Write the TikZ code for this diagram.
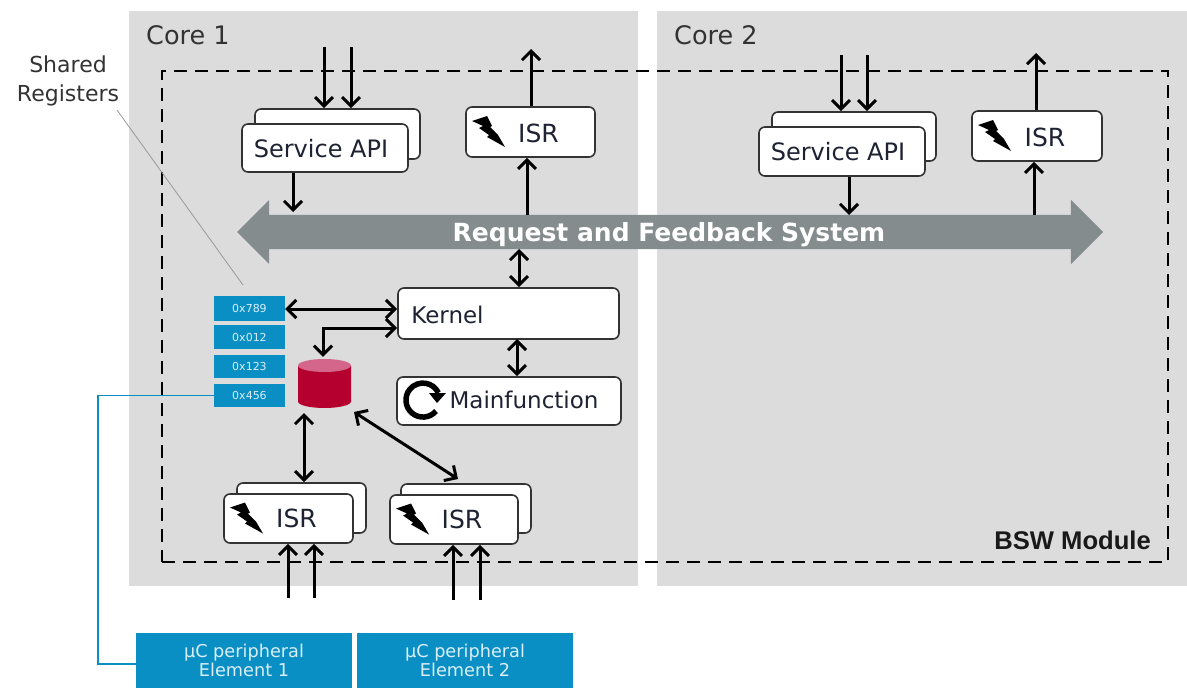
\documentclass[tikz,border=0pt]{standalone}
\usepackage{fontspec}
\setmainfont{DejaVu Sans}
\newfontfamily\arialish{Liberation Sans}
\usetikzlibrary{arrows.meta,shapes.arrows,shapes.geometric,calc}
\definecolor{panelgrey}{HTML}{DCDCDC}
\definecolor{busgrey}{HTML}{848C8E}
\definecolor{regblue}{HTML}{0A8FC4}
\definecolor{dbred}{HTML}{B5002F}
\definecolor{dbtop}{HTML}{D3668A}
\definecolor{inktext}{HTML}{1E2233}
\newcommand\fs[1]{\fontsize{#1}{#1}\selectfont}
\newcommand\lowered[2]{\raisebox{-#1pt}[0pt][0pt]{#2}}
\tikzset{
  x=1pt,y=-1pt,
  panel/.style={draw=none,fill=panelgrey,inner sep=0pt},
  roundbox/.style={draw=black!80,fill=white,line width=1.6pt,rounded corners=6pt,inner sep=0pt,text=inktext,font=\fs{23}},
  regbox/.style={draw=none,fill=regblue,inner sep=0pt,text=white!85!regblue,font=\fs{11}},
  periph/.style={draw=none,fill=regblue,inner sep=0pt,text=white!85!regblue,font=\fs{17.7},align=center},
  conn/.style={line width=3pt,black,-{Straight Barb[length=9pt,width=18pt,line width=3pt]}},
  biconn/.style={line width=3pt,black,{Straight Barb[length=9pt,width=18pt,line width=3pt]}-{Straight Barb[length=9pt,width=18pt,line width=3pt]}},
  title/.style={inner sep=0pt,text=black!80,font=\fs{25.5}},
  bolt/.pic={\fill[black] (6,14)--(21,9)--(26,19)--(24,20)--(32,28)--(39,40)--(21,30)--(23,28)--(13,21)--(17,19)--cycle;},
}
\newcommand\place[7][]{\node[#2,#1,minimum width={(#6)-(#4)},minimum height={(#7)-(#5)}] (#3) at ({((#4)+(#6))/2},{((#5)+(#7))/2})}
\begin{document}
\begin{tikzpicture}
\useasboundingbox (0,0) rectangle (1187,688);
% panels
\place{panel}{core1}{129}{11}{638}{586} {};
\place{panel}{core2}{657}{11}{1187}{586} {};
\node[title,anchor=west] (core1t) at (146,35) {Core 1};
\node[title,anchor=west] (core2t) at (674,35) {Core 2};
% module frame
\place[draw=black,line width=2.6pt,dash pattern=on 13pt off 8pt,fill=none]{panel}{bsw}{162}{71}{1168}{562} {};
\node[inner sep=0pt,anchor=east,font=\fs{25.6}\arialish\bfseries,text=black!90] (bswt) at (1151,540) {BSW Module};
% bus
\node[double arrow,draw=none,fill=busgrey,inner sep=0pt,minimum height=866pt,minimum width=64pt,
  double arrow head extend=15pt,double arrow tip angle=90,text=white,font=\fs{25}\bfseries,text height=26pt,text depth=8pt] (bus) at (670,232) {\kern-2pt Request and Feedback System};
% service API boxes
\place{roundbox}{sa1b}{255}{109}{420}{159} {};
\place[font=\fs{24}]{roundbox}{sa1f}{242}{124}{408}{172} {\lowered{9}{Service API}\hspace*{8pt}};
\place{roundbox}{sa2b}{772}{112}{936}{161} {};
\place[font=\fs{24}]{roundbox}{sa2f}{759}{127}{925}{176} {\lowered{9}{Service API}\hspace*{8pt}};
% ISR boxes
\place[font=\fs{25}]{roundbox}{isr1}{466}{107}{595}{157} {\hspace*{16pt}\lowered{10}{ISR}};
\place[font=\fs{25}]{roundbox}{isr2}{972}{111}{1102}{161} {\hspace*{16pt}\lowered{10}{ISR}};
\place{roundbox}{isr3b}{237}{483}{366}{533} {};
\place[font=\fs{25}]{roundbox}{isr3f}{224}{494}{353}{543} {\hspace*{16pt}\lowered{9}{ISR}};
\place{roundbox}{isr4b}{401}{484}{531}{533} {};
\place[font=\fs{25}]{roundbox}{isr4f}{390}{495}{518}{544} {\hspace*{16pt}\lowered{9}{ISR}};
\pic at (isr1.center) [shift={(-64.5,-25)}] {bolt};
\pic at (isr2.center) [shift={(-65,-25)}] {bolt};
\pic at (isr3f.center) [shift={(-64.5,-25)}] {bolt};
\pic at (isr4f.center) [shift={(-64,-25)}] {bolt};
% kernel, mainfunction
\place{roundbox}{kernel}{398}{288}{619}{339} {\lowered{9.5}{Kernel}\hspace*{122pt}};
\place{roundbox}{mainf}{397}{377}{621}{425} {\hspace*{30pt}\lowered{7}{Mainfunction}};
\draw[line width=5.5pt,black] (436,411) arc[start angle=40,end angle=335,radius=17,y=-1pt,x=1pt];
\fill[black] (429,393)--(446,393)--(437,403)--cycle;
% registers
\place{regbox}{r1}{214}{296}{285}{321} {0x789};
\place{regbox}{r2}{214}{325}{285}{349} {0x012};
\place{regbox}{r3}{214}{355}{285}{378} {0x123};
\place{regbox}{r4}{214}{384}{285}{407} {0x456};
% database
\node[draw=none,fill=none,inner sep=0pt,minimum width=53pt,minimum height=49pt] (db) at (324.5,383.5) {};
\fill[dbred] (298,365.5) -- (298,401.5) arc[start angle=180,end angle=360,x radius=26.5,y radius=-6.5] -- (351,365.5) -- cycle;
\fill[dbtop] (324.5,365.5) ellipse[x radius=26.5,y radius=6.5];
% peripherals
\place{periph}{p1}{136}{633}{352}{688} {µC peripheral\\[2pt]Element 1};
\place{periph}{p2}{357}{633}{573}{688} {µC peripheral\\[2pt]Element 2};
% label
\node[title,align=center,font=\fs{22}] (shared) at (68,80.5) {Shared\\[7pt]Registers};
% free ends
\coordinate (a1) at (324,47); \coordinate (a2) at (351,47);
\coordinate (a3) at (531,49); \coordinate (a4) at (293,212);
\coordinate (a5) at (527,215);
\coordinate (b1) at (841,55); \coordinate (b2) at (867,55);
\coordinate (b3) at (1036,53); \coordinate (b4) at (849,215);
\coordinate (b5) at (1034,215);
\coordinate (c1) at (288,598); \coordinate (c2) at (314,598);
\coordinate (c3) at (453,600); \coordinate (c4) at (480,600);
\coordinate (k1) at (519,249); \coordinate (k2) at (517,339);
\coordinate (k3) at (397,309); \coordinate (k4) at (397,328);
\coordinate (d1) at (304,413); \coordinate (d2) at (354,412);
\coordinate (d3) at (458,479);
\coordinate (g1) at (243,285); \coordinate (g2) at (117,110);
\coordinate (w1) at (98,396); \coordinate (w2) at (98,664);
% connectors
\draw[conn] (a1) -- (a1 |- sa1b.north);
\draw[conn] (a2) -- (a2 |- sa1b.north);
\draw[conn] (isr1.north -| a3) -- (a3);
\draw[conn] (sa1f.south -| a4) -- (a4);
\draw[conn] (a5) -- (a5 |- isr1.south);
\draw[conn] (b1) -- (b1 |- sa2b.north);
\draw[conn] (b2) -- (b2 |- sa2b.north);
\draw[conn] (isr2.north -| b3) -- (b3);
\draw[conn] (sa2f.south -| b4) -- (b4);
\draw[conn] (b5) -- (b5 |- isr2.south);
\draw[conn] (c1) -- (c1 |- isr3f.south);
\draw[conn] (c2) -- (c2 |- isr3f.south);
\draw[conn] (c3) -- (c3 |- isr4f.south);
\draw[conn] (c4) -- (c4 |- isr4f.south);
\draw[biconn] (k1) -- (k1 |- kernel.north);
\draw[biconn] (k2) -- (k2 |- mainf.north);
\draw[biconn] (r1.east |- k3) -- (k3);
\draw[biconn] (k4) -| ($(db.north)+(-1.5,-2)$);
\draw[biconn] (d1) -- (d1 |- isr3b.north);
\draw[biconn] (d2) -- (d3);
\draw[line width=0.8pt,black!40] (g1) -- (g2);
\draw[line width=1.2pt,regblue] (r4.west) -- (r4.west -| w1) -- (w2) -- (w2 -| p1.west);
\end{tikzpicture}
\end{document}
